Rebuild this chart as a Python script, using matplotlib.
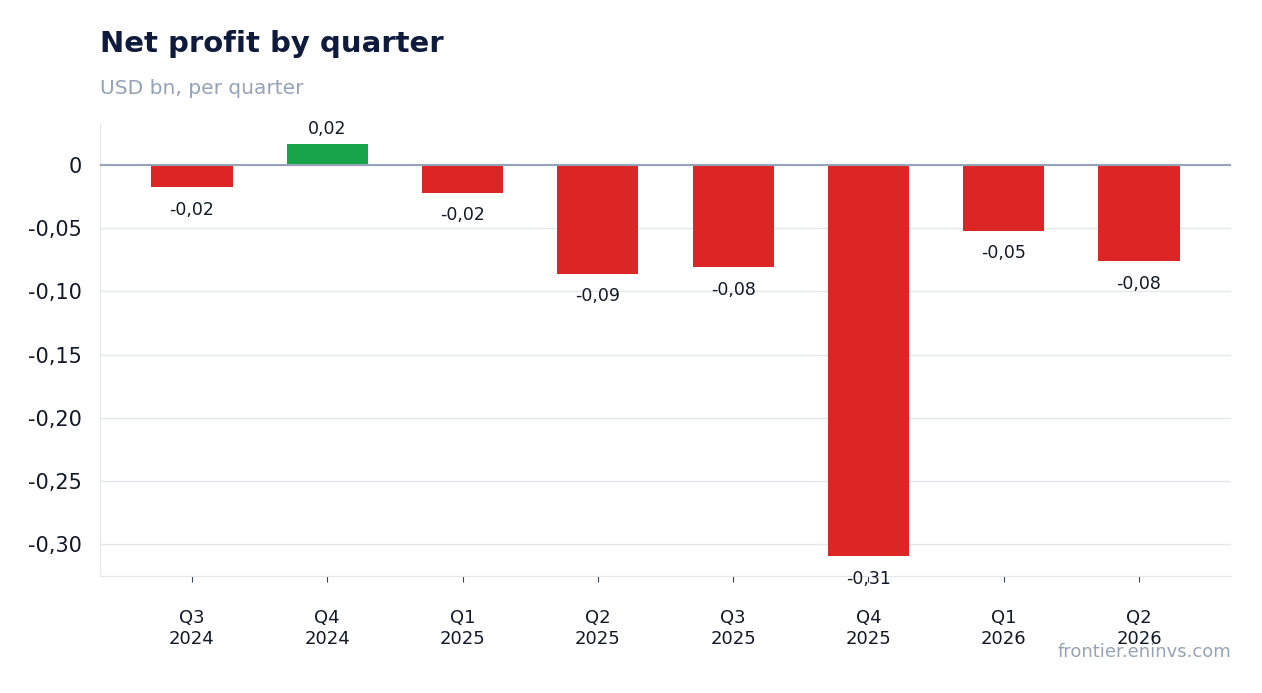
import matplotlib
matplotlib.use("Agg")
import matplotlib.pyplot as plt

quarters = ["Q3\n2024", "Q4\n2024", "Q1\n2025", "Q2\n2025", "Q3\n2025", "Q4\n2025", "Q1\n2026", "Q2\n2026"]
values = [-0.0174, 0.0166, -0.022, -0.086, -0.081, -0.309, -0.052, -0.076]
yticks = [0, -0.05, -0.10, -0.15, -0.20, -0.25, -0.30]
ytick_labels = ["0", "-0,05", "-0,10", "-0,15", "-0,20", "-0,25", "-0,30"]

fig = plt.figure(figsize=(12.62, 6.93), dpi=100)
ax = fig.add_axes([100/1262, 1-576/693, 1131/1262, 453/693])
x = list(range(len(values)))
colors = ["#16a34a" if v >= 0 else "#dc2626" for v in values]
ax.bar(x, values, width=0.6, color=colors, zorder=3)
ax.set_xlim(-0.68, 7.68)
ax.set_ylim(-0.325, 0.033)
ax.set_yticks(yticks)
ax.set_yticklabels(ytick_labels, fontsize=15, color="#111827")
ax.set_xticks(x)
ax.set_xticklabels(quarters, fontsize=13, color="#111827")
ax.tick_params(axis="x", length=4, pad=20, color="#374151")
ax.tick_params(axis="y", length=0, pad=13)
ax.grid(axis="y", color="#e5e7eb", linewidth=1, zorder=0)
ax.axhline(0, color="#94a3b8", linewidth=1.5, zorder=4)
for s in ["top", "right"]:
    ax.spines[s].set_visible(False)
for s in ["left", "bottom"]:
    ax.spines[s].set_color("#e5e7eb")
for xi, v in zip(x, values):
    lbl = f"{v:.2f}".replace(".", ",")
    if v >= 0:
        ax.annotate(lbl, (xi, v), xytext=(0, 4), textcoords="offset points", ha="center", va="bottom", fontsize=12.5, color="#111827")
    else:
        ax.annotate(lbl, (xi, v), xytext=(0, -10), textcoords="offset points", ha="center", va="top", fontsize=12.5, color="#111827")
fig.text(100/1262, 1-44/693, "Net profit by quarter", fontsize=21, fontweight="bold", color="#0f1b3d", va="center")
fig.text(100/1262, 1-88/693, "USD bn, per quarter", fontsize=14.5, color="#94a3b8", va="center")
fig.text(1231/1262, 1-652/693, "frontier.eninvs.com", fontsize=13, color="#94a3b8", ha="right", va="center")
fig.savefig("out.png", dpi=100)
